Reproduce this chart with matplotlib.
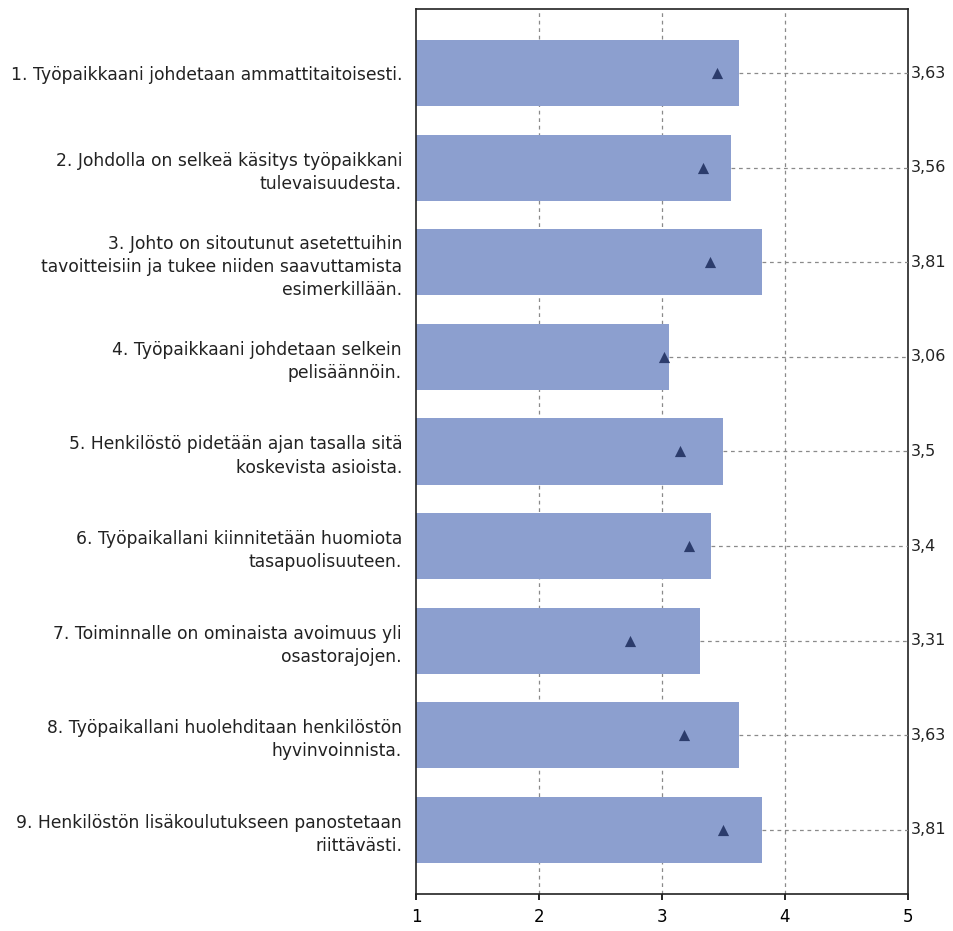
import matplotlib
matplotlib.use("Agg")
import matplotlib.pyplot as plt

labels = [
    "1. Työpaikkaani johdetaan ammattitaitoisesti.",
    "2. Johdolla on selkeä käsitys työpaikkani\ntulevaisuudesta.",
    "3. Johto on sitoutunut asetettuihin\ntavoitteisiin ja tukee niiden saavuttamista\nesimerkillään.",
    "4. Työpaikkaani johdetaan selkein\npelisäännöin.",
    "5. Henkilöstö pidetään ajan tasalla sitä\nkoskevista asioista.",
    "6. Työpaikallani kiinnitetään huomiota\ntasapuolisuuteen.",
    "7. Toiminnalle on ominaista avoimuus yli\nosastorajojen.",
    "8. Työpaikallani huolehditaan henkilöstön\nhyvinvoinnista.",
    "9. Henkilöstön lisäkoulutukseen panostetaan\nriittävästi.",
]
values = [3.63, 3.56, 3.81, 3.06, 3.5, 3.4, 3.31, 3.63, 3.81]
value_labels = ["3,63", "3,56", "3,81", "3,06", "3,5", "3,4", "3,31", "3,63", "3,81"]
comparison = [3.45, 3.33, 3.39, 3.02, 3.15, 3.22, 2.74, 3.18, 3.50]
xticks = [1, 2, 3, 4, 5]

bar_color = "#8c9fcf"
tri_color = "#2c3c6c"

fig = plt.figure(figsize=(9.54, 9.31), dpi=100)
ax = fig.add_axes([416/954, 1-894/931, (908-416)/954, (894-9)/931])

ypos = list(range(len(labels)))
ax.barh(ypos, [v - 1 for v in values], left=1, height=0.70, color=bar_color, zorder=2)
ax.scatter(comparison, ypos, marker="^", s=65, color=tri_color, zorder=4, linewidths=0)

for y, v, t in zip(ypos, values, value_labels):
    ax.plot([v, 5], [y, y], ls=(0, (3, 3)), color="#8a8a8a", lw=0.9, zorder=3)
    ax.text(5.025, y, t, ha="left", va="center", fontsize=11.5, color="#222222", clip_on=False)

for x in [2, 3, 4]:
    ax.axvline(x, ls=(0, (3, 3)), color="#8a8a8a", lw=0.9, zorder=1)

ax.set_xlim(1, 5)
ax.set_ylim(8.68, -0.68)
ax.set_xticks(xticks)
ax.set_xticklabels([str(x) for x in xticks], fontsize=12)
ax.set_yticks(ypos)
ax.set_yticklabels(labels, fontsize=12.3, linespacing=1.38, color="#222222")
ax.tick_params(axis="y", length=0, pad=10)
ax.tick_params(axis="x", length=4, width=1.2, pad=6)
for s in ax.spines.values():
    s.set_linewidth(1.2)
    s.set_color("#222222")

fig.savefig("out.png", dpi=100)
